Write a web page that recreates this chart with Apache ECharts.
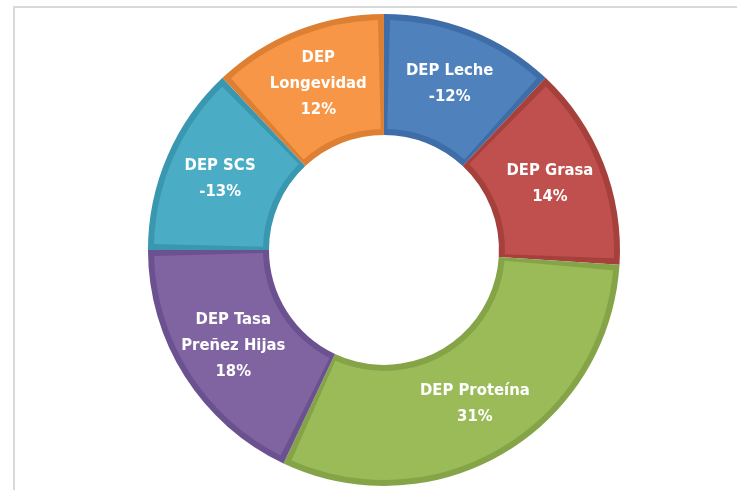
<!DOCTYPE html>
<html>
<head>
<meta charset="utf-8">
<script src="https://cdn.jsdelivr.net/npm/echarts@6/dist/echarts.min.js"></script>
<style>
  html, body { margin: 0; padding: 0; background: #ffffff; }
  #chart { width: 737px; height: 490px; }
</style>
</head>
<body>
<div id="chart"></div>
<script>
// Data (clockwise from 12 o'clock)
const categories = ['DEP Leche', 'DEP Grasa', 'DEP Proteína', 'DEP Tasa\nPreñez Hijas', 'DEP SCS', 'DEP\nLongevidad'];
const percents = [-12, 14, 31, 18, -13, 12];
const fillColors = ['#4F81BD', '#C0504D', '#9BBB59', '#8064A2', '#4BACC6', '#F79646'];
const edgeColors = ['#3E6DA8', '#A6403D', '#85A447', '#6B518F', '#3997B0', '#DD8034'];

const chart = echarts.init(document.getElementById('chart'), null, { renderer: 'canvas' });

const center = ['52.1%', '51%'];
const fontFamily = "'Liberation Sans Narrow', 'DejaVu Sans Condensed', 'Open Sans', sans-serif";

chart.setOption({
  backgroundColor: '#ffffff',
  animation: false,
  graphic: [
    { type: 'line', silent: true, shape: { x1: 13, y1: 7, x2: 737, y2: 7 }, style: { stroke: '#D9D9D9', lineWidth: 2 } },
    { type: 'line', silent: true, shape: { x1: 14, y1: 6, x2: 14, y2: 490 }, style: { stroke: '#D9D9D9', lineWidth: 2 } }
  ],
  series: [
    {
      type: 'pie',
      silent: true,
      center: center,
      radius: [115, 236],
      startAngle: 90,
      clockwise: true,
      label: { show: false },
      labelLine: { show: false },
      itemStyle: { borderWidth: 0 },
      data: categories.map((c, i) => ({
        name: c,
        value: Math.abs(percents[i]),
        itemStyle: { color: edgeColors[i] }
      }))
    },
    {
      type: 'pie',
      silent: true,
      center: center,
      radius: [121, 230],
      startAngle: 90,
      clockwise: true,
      padAngle: 3,
      labelLine: { show: false },
      itemStyle: { borderWidth: 0 },
      label: {
        show: true,
        position: 'inside',
        color: '#ffffff',
        fontFamily: fontFamily,
        fontWeight: 'bold',
        fontSize: 16.5,
        lineHeight: 26,
        formatter: function (p) {
          return p.name + '\n' + percents[p.dataIndex] + '%';
        }
      },
      data: categories.map((c, i) => ({
        name: c,
        value: Math.abs(percents[i]),
        itemStyle: { color: fillColors[i] }
      }))
    }
  ]
});
</script>
</body>
</html>
